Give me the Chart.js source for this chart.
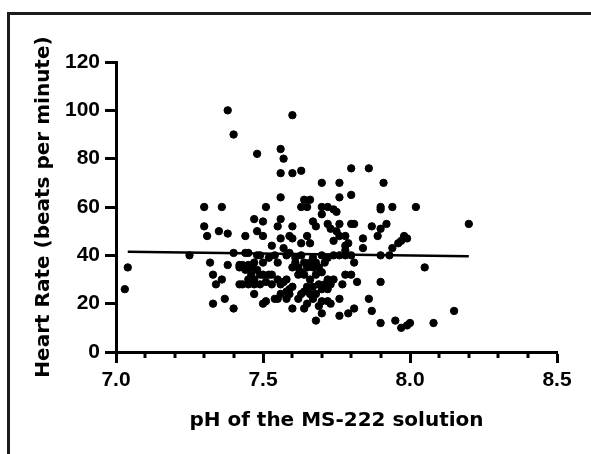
<!DOCTYPE html>
<html>
<head>
<meta charset="utf-8">
<script src="https://cdn.jsdelivr.net/npm/chart.js@4.4.1/dist/chart.umd.min.js"></script>
<style>
    body { margin: 0; background: #fff; overflow: hidden; }
    #wrap { position: relative; width: 591px; height: 454px; }
    #frame {
        position: absolute; left: 7px; top: 12px; width: 620px; height: 500px;
        border-left: 3px solid #1c1c1c; border-top: 3px solid #1c1c1c;
    }
    #heartChart { position: absolute; left: 0; top: 0; }
</style>
</head>
<body>
<div id="wrap">
    <div id="frame"></div>
    <canvas id="heartChart" width="591" height="454"></canvas>
</div>
<script>
// pH of the MS-222 solution for each fish
const phValues = [
    7.03, 7.04, 7.25, 7.38, 7.40, 7.48, 7.56, 7.57, 7.56, 7.56,
    7.60, 7.60, 7.63, 7.70, 7.76, 7.80, 7.86, 7.91, 7.80, 8.02,
    8.20, 8.05, 8.15, 8.08, 8.00, 7.99, 7.97, 7.95, 7.90, 7.87,
    7.86, 7.90, 7.90, 7.93, 7.94, 7.97, 7.98, 7.99, 7.96, 7.94,
    7.90, 7.90, 7.92, 7.90, 7.89, 7.87, 7.84, 7.84, 7.81, 7.82,
    7.80, 7.77, 7.78, 7.81, 7.79, 7.76, 7.76, 7.80, 7.81,
    7.30, 7.36, 7.30, 7.31, 7.35, 7.38, 7.32, 7.33, 7.34, 7.36,
    7.33, 7.37, 7.40, 7.38, 7.40, 7.44, 7.44, 7.45, 7.47, 7.48,
    7.50, 7.50, 7.51, 7.53, 7.53, 7.47, 7.50, 7.51, 7.54, 7.56,
    7.55, 7.58, 7.59, 7.60, 7.65, 7.64, 7.67, 7.69, 7.68, 7.70,
    7.70, 7.72, 7.73, 7.56, 7.55, 7.59, 7.60, 7.60, 7.56, 7.57,
    7.63, 7.64, 7.66, 7.65, 7.67, 7.68, 7.70, 7.70, 7.72, 7.74,
    7.75, 7.76, 7.76, 7.75, 7.73, 7.72, 7.76, 7.74, 7.78, 7.78,
    7.79, 7.78, 7.65, 7.63, 7.66, 7.67, 7.70,
    7.42, 7.42, 7.43, 7.44, 7.45, 7.46, 7.47, 7.48, 7.49, 7.46,
    7.45, 7.47, 7.42, 7.43, 7.45, 7.47, 7.49, 7.50, 7.52, 7.54,
    7.55, 7.56, 7.57, 7.58, 7.59, 7.60, 7.58, 7.61, 7.62, 7.61,
    7.63, 7.64, 7.63, 7.65, 7.66, 7.67, 7.68, 7.69, 7.70, 7.68,
    7.66, 7.65, 7.67, 7.69, 7.71, 7.73, 7.72, 7.74, 7.66, 7.64,
    7.63, 7.62, 7.71, 7.72, 7.74, 7.76, 7.78, 7.80, 7.48, 7.49,
    7.58, 7.59, 7.55, 7.50, 7.52, 7.53, 7.51, 7.70, 7.72, 7.68,
    7.60, 7.62, 7.64
];

// heart rate (beats per minute), same order as phValues
const heartRates = [
    26, 35, 40, 100, 90, 82, 84, 80, 74, 64,
    98, 74, 75, 70, 70, 76, 76, 70, 65, 60,
    53, 35, 17, 12, 12, 11, 10, 13, 12, 17,
    22, 29, 40, 40, 43, 46, 48, 47, 45, 60,
    60, 59, 53, 51, 48, 52, 47, 43, 37, 29,
    32, 28, 32, 18, 16, 15, 22, 53, 53,
    60, 60, 52, 48, 50, 49, 37, 32, 28, 30,
    20, 22, 18, 36, 41, 48, 41, 41, 55, 50,
    54, 48, 60, 44, 32, 24, 20, 21, 22, 24,
    22, 22, 24, 18, 20, 18, 22, 19, 13, 16,
    21, 21, 20, 55, 52, 48, 52, 47, 47, 43,
    60, 63, 63, 60, 54, 52, 60, 57, 60, 59,
    58, 64, 53, 50, 51, 53, 48, 46, 44, 48,
    45, 42, 48, 45, 45, 39, 40,
    36, 35, 36, 34, 36, 35, 37, 34, 32, 32,
    30, 30, 28, 28, 28, 28, 28, 37, 39, 40,
    30, 28, 29, 30, 26, 27, 25, 37, 35, 39,
    40, 37, 33, 35, 37, 35, 37, 35, 33, 32,
    30, 27, 27, 28, 28, 28, 30, 30, 24, 25,
    24, 22, 37, 39, 40, 40, 40, 40, 40, 40,
    40, 41, 37, 32, 32, 28, 29, 26, 26, 24,
    35, 32, 32
];

// fitted regression line (end points)
const fitPh = [7.04, 8.20];
const fitRate = [41.5, 39.6];

const xMin = 7.0, xMax = 8.5, xStep = 0.5, xMinorStep = 0.1;
const yMin = 0, yMax = 120, yStep = 20;

document.addEventListener('DOMContentLoaded', () => {
    const points = phValues.map((ph, i) => ({ x: ph, y: heartRates[i] }));
    const fitLine = fitPh.map((ph, i) => ({ x: ph, y: fitRate[i] }));

    // small ticks between the labelled ones on the x axis
    const minorTicks = {
        id: 'minorTicks',
        afterDraw(chart) {
            const scale = chart.scales.x;
            const c = chart.ctx;
            c.save();
            c.strokeStyle = '#000';
            c.lineWidth = 3;
            const n = Math.round((xMax - xMin) / xMinorStep);
            for (let i = 1; i < n; i++) {
                if (i % 5 === 0) continue;
                const px = Math.round(scale.getPixelForValue(xMin + i * xMinorStep));
                c.beginPath();
                c.moveTo(px, scale.top);
                c.lineTo(px, scale.top + 6);
                c.stroke();
            }
            c.restore();
        }
    };

    const ctx = document.getElementById('heartChart').getContext('2d');
    const heartChart = new Chart(ctx, {
        type: 'scatter',
        data: {
            datasets: [{
                label: 'Heart rate',
                data: points,
                backgroundColor: '#000',
                borderColor: '#000',
                pointRadius: 3.7,
                pointHoverRadius: 3.7,
                order: 2
            }, {
                type: 'line',
                label: 'Fit',
                data: fitLine,
                borderColor: '#000',
                borderWidth: 2.5,
                pointRadius: 0,
                fill: false,
                order: 1
            }]
        },
        options: {
            responsive: false,
            animation: false,
            layout: {
                padding: { left: 0, right: 34, top: 62, bottom: 0 }
            },
            plugins: {
                legend: { display: false },
                tooltip: { enabled: false }
            },
            scales: {
                x: {
                    type: 'linear',
                    min: xMin,
                    max: xMax,
                    afterFit: (scale) => { scale.height = 102; },
                    border: { display: true, color: '#000', width: 3 },
                    grid: {
                        drawOnChartArea: false,
                        drawTicks: true,
                        tickLength: 11,
                        tickWidth: 3,
                        tickColor: '#000'
                    },
                    ticks: {
                        stepSize: xStep,
                        padding: 5,
                        color: '#000',
                        font: { family: '"Liberation Sans", Arial, sans-serif', size: 21, weight: 'bold' },
                        callback: (value) => Number(value).toFixed(1)
                    },
                    title: {
                        display: true,
                        text: 'pH of the MS-222 solution',
                        color: '#000',
                        font: { family: '"DejaVu Sans", sans-serif', size: 20, weight: 'bold' },
                        padding: { top: 0, bottom: 21 }
                    }
                },
                y: {
                    type: 'linear',
                    min: yMin,
                    max: yMax,
                    afterFit: (scale) => { scale.width = 116; },
                    border: { display: true, color: '#000', width: 3 },
                    grid: {
                        drawOnChartArea: false,
                        drawTicks: true,
                        tickLength: 11,
                        tickWidth: 3,
                        tickColor: '#000'
                    },
                    ticks: {
                        stepSize: yStep,
                        padding: 5,
                        color: '#000',
                        font: { family: '"Liberation Sans", Arial, sans-serif', size: 21, weight: 'bold' }
                    },
                    title: {
                        display: true,
                        text: 'Heart Rate (beats per minute)',
                        color: '#000',
                        font: { family: '"DejaVu Sans", sans-serif', size: 20, weight: 'bold' },
                        padding: { top: 32, bottom: 0 }
                    }
                }
            }
        },
        plugins: [minorTicks]
    });
});
</script>
</body>
</html>
